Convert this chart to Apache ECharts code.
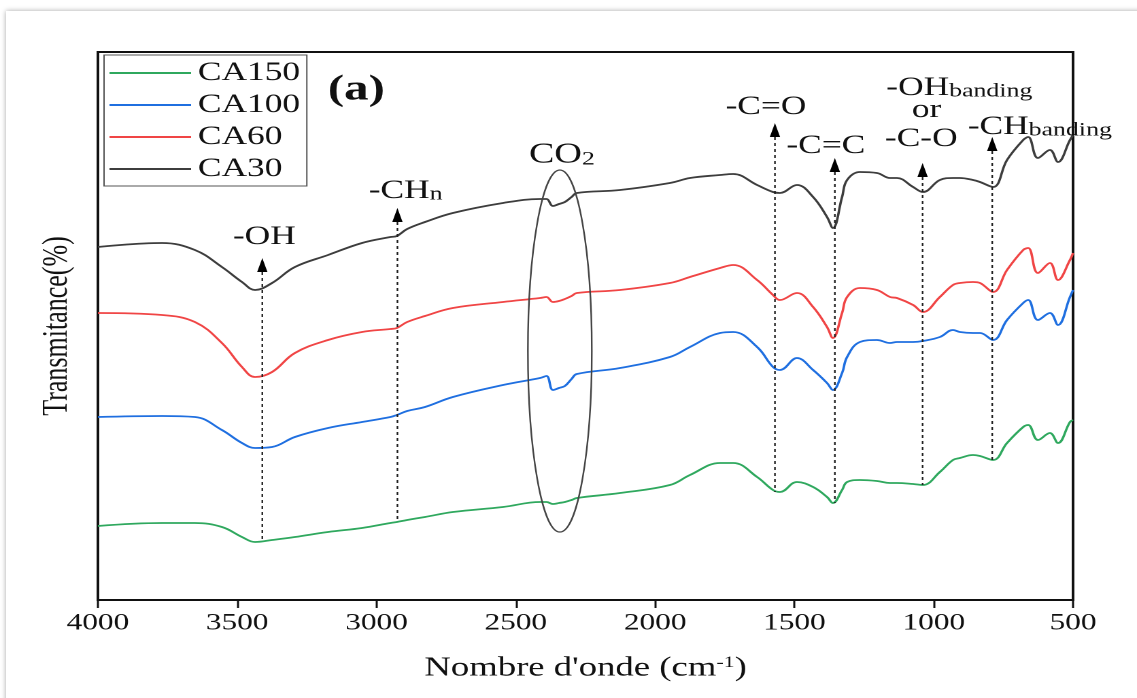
<!DOCTYPE html>
<html>
<head>
<meta charset="utf-8">
<script src="https://cdn.jsdelivr.net/npm/echarts@6/dist/echarts.min.js"></script>
<style>
  html, body { margin: 0; padding: 0; background: #fff; overflow: hidden; }
  #card { position: absolute; left: 6px; top: 11px; width: 1150px; height: 700px; background: #fff; box-shadow: 0 0 5px rgba(0,0,0,0.35); }
  /* la figure d'origine est etiree horizontalement */
  #wrap { position: absolute; left: 0; top: 0; width: 836px; height: 698px; transform: scaleX(1.36); transform-origin: 0 0; }
  #main { width: 836px; height: 698px; }
</style>
</head>
<body>
<div id="card"></div>
<div id="wrap"><div id="main"></div></div>
<script>
var serif = "'Liberation Serif', 'Times New Roman', serif";

// nombre d'onde (cm-1)
var wavenumber = [4000, 3770, 3652, 3555, 3483, 3436, 3375, 3293, 3174, 3052, 2950, 2927, 2890, 2826, 2726, 2546,
  2413, 2390, 2367, 2345, 2324, 2300, 2281, 2126, 1947, 1875, 1767, 1720, 1634, 1577, 1552, 1491, 1433, 1383, 1362,
  1329, 1311, 1265, 1204, 1157, 1132, 1074, 1039, 978, 931, 906, 859, 834, 787, 737, 679, 661, 626, 583, 554, 511, 500];

// transmittance (unites arbitraires, courbes decalees)
var ca30 = [353, 357, 350, 333, 318, 310, 317, 333, 345, 357, 363, 364, 371, 378, 387, 397,
  401, 401, 394, 396, 398, 403, 407, 410, 417, 422, 425, 426, 415, 408, 407, 415, 403, 383, 372,
  403, 420, 428, 427, 422, 422, 413, 408, 420, 422, 422, 420, 418, 413, 440, 460, 463, 442, 450, 438, 460, 465];
var ca60 = [287, 285, 278, 257, 233, 223, 228, 247, 260, 268, 271, 272, 278, 284, 292, 298,
  302, 303, 298, 299, 301, 304, 307, 310, 317, 323, 332, 335, 320, 305, 300, 307, 293, 273, 262,
  287, 303, 312, 310, 303, 302, 295, 288, 303, 315, 317, 318, 317, 308, 330, 350, 352, 327, 337, 320, 340, 347];
var ca100 = [183, 184, 183, 170, 157, 152, 153, 163, 172, 178, 183, 185, 189, 193, 203, 215,
  222, 224, 210, 212, 214, 221, 226, 232, 243, 253, 267, 268, 253, 233, 230, 242, 230, 217, 210,
  227, 243, 258, 260, 257, 258, 258, 259, 263, 270, 268, 267, 267, 260, 280, 297, 300, 280, 287, 275, 303, 310];
var ca150 = [74, 77, 77, 73, 63, 58, 60, 63, 68, 72, 77, 78, 80, 83, 88, 93,
  98, 98, 96, 97, 98, 100, 102, 107, 115, 125, 137, 137, 123, 110, 108, 118, 113, 103, 97,
  110, 118, 120, 119, 117, 117, 116, 115, 128, 140, 142, 145, 144, 140, 157, 173, 175, 160, 167, 157, 178, 180];

var seriesNames = ['CA150', 'CA100', 'CA60', 'CA30'];
var seriesValues = [ca150, ca100, ca60, ca30];
var seriesColors = ['#2fa85e', '#1f6fe0', '#f04545', '#3d3d3d'];

// bandes : position, bas du pointille, pointe de la fleche
var bandWn = [3410, 2925, 1570, 1355, 1040, 790];
var bandLow = [58, 78, 108, 97, 115, 140];
var bandTip = [342, 392, 477, 442, 437, 463];
var bandLabels = [['-OH'], ['-CH{s|n}'], ['-C=O'], ['-C=C'], ['-OH{s|banding}', 'or', '-C-O'], ['-CH{s|banding}']];
// decalage des etiquettes par rapport a la pointe (px)
var labelOffsets = [[[1.5, -21]], [[6, -17]], [[-6.6, -16]], [[-6.6, -12]], [[27, -75], [3, -53], [-1, -24]], [[35, -10]]];

// zone CO2
var co2Wn = 2342, co2Mid = 249;

function pairs(vals) {
  var d = [];
  for (var i = 0; i < wavenumber.length; i++) d.push([wavenumber[i], vals[i]]);
  return d;
}

var series = [];
for (var i = 0; i < seriesNames.length; i++) {
  series.push({
    name: seriesNames[i],
    type: 'line',
    data: pairs(seriesValues[i]),
    symbol: 'none',
    showSymbol: false,
    smooth: 0.4,
    lineStyle: { color: seriesColors[i], width: 1.8 },
    itemStyle: { color: seriesColors[i] }
  });
}

var option = {
  animation: false,
  backgroundColor: 'transparent',
  grid: { left: 72, top: 52, width: 717, height: 548, show: true, borderColor: '#111', borderWidth: 2 },
  legend: {
    orient: 'vertical',
    left: 76.5,
    top: 55,
    data: seriesNames,
    icon: 'rect',
    itemWidth: 60,
    itemHeight: 2,
    itemGap: 6,
    padding: [5, 5, 4, 4],
    borderColor: '#555',
    borderWidth: 1,
    textStyle: { fontFamily: serif, fontSize: 26, lineHeight: 26, color: '#111' }
  },
  xAxis: {
    type: 'value',
    min: 500,
    max: 4000,
    interval: 500,
    inverse: true,
    name: "Nombre d'onde (cm{sup|-1})",
    nameLocation: 'middle',
    nameGap: 55,
    nameTextStyle: {
      fontFamily: serif, fontSize: 27, color: '#111',
      rich: { sup: { fontFamily: serif, fontSize: 16, verticalAlign: 'top', lineHeight: 16, color: '#111' } }
    },
    axisLine: { lineStyle: { color: '#111', width: 2 } },
    axisTick: { length: 8, lineStyle: { color: '#111', width: 1.5 } },
    axisLabel: {
      fontFamily: serif, fontSize: 23, color: '#111', margin: 12,
      formatter: function (v) { return String(v); }
    },
    splitLine: { show: false }
  },
  yAxis: {
    type: 'value',
    min: 0,
    max: 548,
    name: 'Transmitance(%)',
    nameLocation: 'middle',
    nameGap: 17,
    nameTextStyle: { fontFamily: serif, fontSize: 26, color: '#111' },
    axisLine: { show: true, lineStyle: { color: '#111', width: 2 } },
    axisTick: { show: false },
    axisLabel: { show: false },
    splitLine: { show: false }
  },
  series: series
};

var chart = echarts.init(document.getElementById('main'), null, { devicePixelRatio: 2 });
chart.setOption(option);

var subRich = { s: { fontFamily: serif, fontSize: 19, lineHeight: 19, verticalAlign: 'bottom', fill: '#111' } };
var graphics = [];
for (var b = 0; b < bandWn.length; b++) {
  var tip = chart.convertToPixel({ gridIndex: 0 }, [bandWn[b], bandTip[b]]);
  var low = chart.convertToPixel({ gridIndex: 0 }, [bandWn[b], bandLow[b]]);
  graphics.push({
    type: 'line', z: 100,
    shape: { x1: tip[0], y1: tip[1] + 14, x2: low[0], y2: low[1] },
    style: { stroke: '#222', lineWidth: 1.2, lineDash: [3, 3] }
  });
  graphics.push({
    type: 'polygon', z: 100,
    shape: { points: [[tip[0], tip[1]], [tip[0] - 3.8, tip[1] + 14], [tip[0] + 3.8, tip[1] + 14]] },
    style: { fill: '#000' }
  });
  for (var k = 0; k < bandLabels[b].length; k++) {
    graphics.push({
      type: 'text', z: 100,
      style: {
        text: bandLabels[b][k],
        x: tip[0] + labelOffsets[b][k][0],
        y: tip[1] + labelOffsets[b][k][1],
        align: 'center',
        verticalAlign: 'middle',
        fontFamily: serif,
        fontSize: 26,
        lineHeight: 26,
        fill: '#111',
        rich: subRich
      }
    });
  }
}

var c = chart.convertToPixel({ gridIndex: 0 }, [co2Wn, co2Mid]);
graphics.push({
  type: 'ellipse', z: 100,
  shape: { cx: c[0], cy: c[1], rx: 23.5, ry: 181 },
  style: { fill: null, stroke: '#444', lineWidth: 1.2 }
});
graphics.push({
  type: 'text', z: 100,
  style: {
    text: 'CO{s|2}', x: c[0] + 1.5, y: c[1] - 196, align: 'center', verticalAlign: 'middle',
    fontFamily: serif, fontSize: 28, lineHeight: 28, fill: '#111',
    rich: { s: { fontFamily: serif, fontSize: 19, lineHeight: 19, verticalAlign: 'bottom', fill: '#111' } }
  }
});
graphics.push({
  type: 'text', z: 100,
  style: {
    text: '(a)', x: 241, y: 90, align: 'left', verticalAlign: 'middle',
    fontFamily: serif, fontSize: 36, fontWeight: 'bold', fill: '#111'
  }
});

chart.setOption({ graphic: graphics });
</script>
</body>
</html>
